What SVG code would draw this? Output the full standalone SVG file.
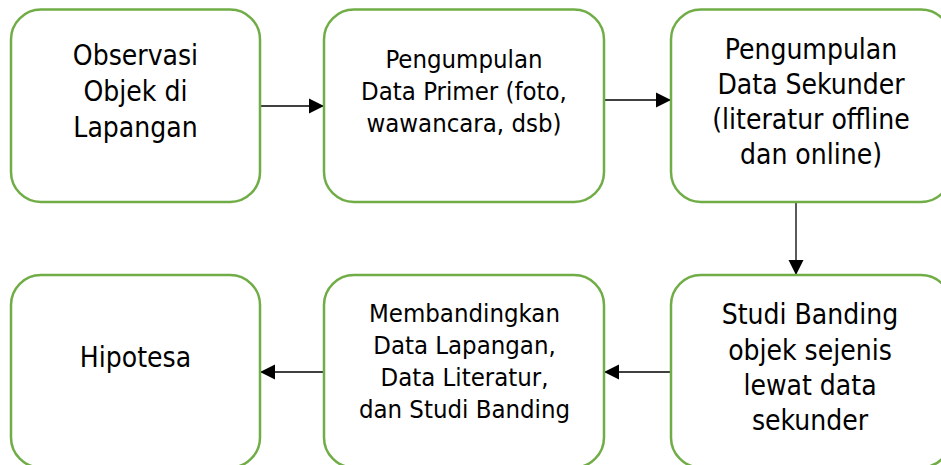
<svg xmlns="http://www.w3.org/2000/svg" width="941" height="465" viewBox="0 0 941 465">
<defs>
<marker id="ah" markerUnits="userSpaceOnUse" markerWidth="16" markerHeight="16" viewBox="0 0 16 16" refX="15" refY="8" orient="auto">
<path d="M0,0.5 L15,8 L0,15.5 Z" fill="#000"/>
</marker>
<style>
.box{fill:#fff;stroke:#70AD47;stroke-width:2.5}
.t{font-family:"DejaVu Sans Condensed","DejaVu Sans",sans-serif;font-stretch:condensed;fill:#000;text-anchor:middle}
.c{stroke:#000;stroke-width:1.3;fill:none;marker-end:url(#ah)}
</style>
</defs>
<rect width="941" height="465" fill="#fff"/>
<g id="connectors">
<line class="c" x1="260" y1="106" x2="324" y2="106"/>
<line class="c" x1="604" y1="100" x2="671" y2="100"/>
<line class="c" x1="796" y1="202" x2="796" y2="275"/>
<line class="c" x1="671" y1="372" x2="604" y2="372"/>
<line class="c" x1="324" y1="372" x2="260" y2="372"/>
</g>
<g id="n1">
<rect class="box" x="11" y="9.5" width="249" height="192.5" rx="30"/>
<text class="t" font-size="28" x="135.5"><tspan x="135.5" y="65">Observasi</tspan><tspan x="135.5" y="101">Objek di</tspan><tspan x="135.5" y="137">Lapangan</tspan></text>
</g>
<g id="n2">
<rect class="box" x="324" y="9.5" width="280" height="192.5" rx="30"/>
<text class="t" font-size="25.5"><tspan x="464" y="67.7">Pengumpulan</tspan><tspan x="464" y="100">Data Primer (foto,</tspan><tspan x="464" y="131.7">wawancara, dsb)</tspan></text>
</g>
<g id="n3">
<rect class="box" x="671" y="9.5" width="280" height="192.5" rx="30"/>
<text class="t" font-size="28"><tspan x="811" y="59.3">Pengumpulan</tspan><tspan x="811" y="94.3">Data Sekunder</tspan><tspan x="811" y="129.3">(literatur offline</tspan><tspan x="811" y="164.3">dan online)</tspan></text>
</g>
<g id="n4">
<rect class="box" x="11" y="275" width="249" height="192.5" rx="30"/>
<text class="t" font-size="28" x="135.5" y="367.3">Hipotesa</text>
</g>
<g id="n5">
<rect class="box" x="324" y="275" width="280" height="192.5" rx="30"/>
<text class="t" font-size="25.5"><tspan x="464.5" y="322.3">Membandingkan</tspan><tspan x="464.5" y="354.3">Data Lapangan,</tspan><tspan x="464.5" y="386">Data Literatur,</tspan><tspan x="464.5" y="417.7">dan Studi Banding</tspan></text>
</g>
<g id="n6">
<rect class="box" x="671" y="275" width="280" height="192.5" rx="30"/>
<text class="t" font-size="28"><tspan x="810" y="324">Studi Banding</tspan><tspan x="810" y="360">objek sejenis</tspan><tspan x="810" y="395">lewat data</tspan><tspan x="810" y="430">sekunder</tspan></text>
</g>
</svg>
